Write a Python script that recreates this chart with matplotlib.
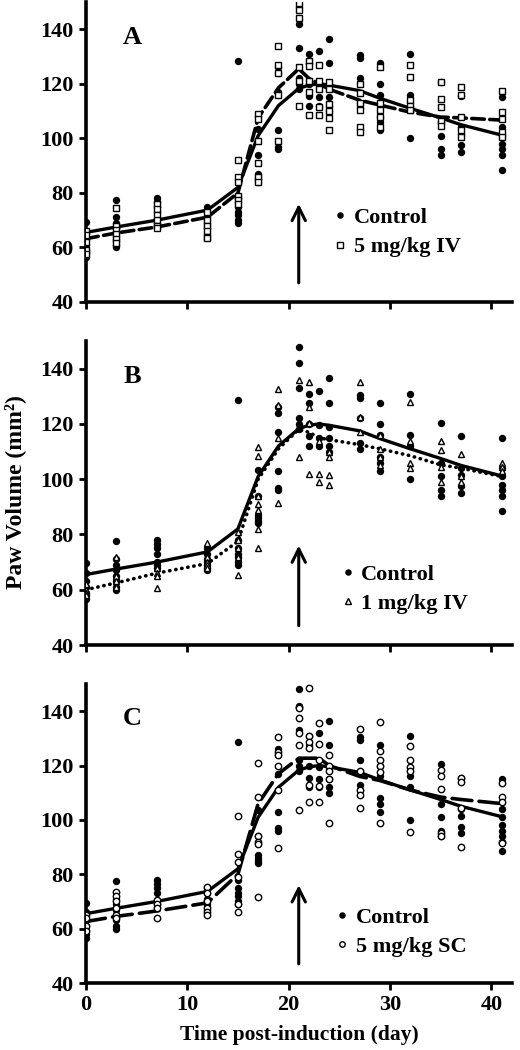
import matplotlib
matplotlib.use("Agg")
import matplotlib.pyplot as plt

plt.rcParams['font.family'] = ['Liberation Serif', 'DejaVu Serif']
plt.rcParams['font.weight'] = 'bold'

# sampling days
days = [0, 3, 7, 12, 15, 17, 19, 21, 22, 23, 24, 27, 29, 32, 35, 37, 41]

# individual paw volumes, control group (same in every panel)
ctrl_pts = [
    [69.5, 66, 63, 61, 59, 58, 56.5],
    [77.5, 71, 69, 67, 65, 63, 61, 60],
    [78, 76.5, 75, 73, 70, 69, 68],
    [75, 73, 71, 70, 69, 68, 67],
    [128.5, 78, 75, 73, 72, 70, 69],
    [103.5, 94, 87, 86, 85, 84],
    [126, 124, 117, 103, 97, 96],
    [148, 142, 133, 122, 120, 118],
    [131, 127.5, 120, 115.5, 112],
    [132, 119.5, 115, 112],
    [136.5, 127.5, 119, 115, 112, 110],
    [130.5, 129.5, 122, 113, 111],
    [127.5, 120, 116, 108, 106, 103],
    [131, 116, 112, 100],
    [120.5, 106, 101, 96, 94],
    [115.5, 104, 101.5, 97.5, 95],
    [115, 104, 101, 98, 96, 94, 88.5],
]

# 5 mg/kg IV (panel A)
iv5_pts = [
    [66, 64.5, 62, 59, 57.5],
    [74.5, 68, 66.5, 65, 63, 61.5],
    [76, 74, 72, 70, 68, 67],
    [73, 70, 68, 66, 64, 63.5],
    [92, 86, 84, 79, 77.5, 76],
    [109, 107, 99, 91, 86, 84],
    [134, 127, 124, 116, 99],
    [149.5, 147, 144, 126, 121, 112],
    [128.5, 126.5, 121, 117, 108.5],
    [127, 121, 118, 111.5, 108.5],
    [120.5, 118, 112.5, 110, 107.5, 103],
    [120, 116.5, 113, 110.5, 104, 102.5],
    [126, 113, 110.5, 108, 104],
    [127, 122.5, 114, 112, 110.5],
    [120.5, 114.5, 111.5, 106.5, 104.5],
    [119, 116, 108, 103, 100.5],
    [117.5, 109.5, 107, 102.5, 100.5],
]

# 1 mg/kg IV (panel B)
iv1_pts = [
    [62, 60, 59, 58],
    [72, 65, 63, 61],
    [68, 66, 65, 60.5],
    [77, 72, 70, 69, 68],
    [81, 78, 75, 72, 65.5],
    [111.5, 108.5, 94, 91, 89, 82, 75],
    [132.5, 127, 115, 91.5],
    [136, 108],
    [135, 126, 120.5, 102],
    [114, 102, 99],
    [110, 108, 101.5, 98],
    [135, 122.5, 117],
    [116, 111, 108, 105],
    [128, 114, 106, 104],
    [114, 110.5, 104.5, 99],
    [109, 101, 99],
    [106, 104.5, 103],
]

# 5 mg/kg SC (panel C)
sc5_pts = [
    [65, 64, 61, 59],
    [73.5, 72, 70, 67.5, 65, 64],
    [70.5, 69, 67.5, 64],
    [75.5, 73, 70, 67.5, 66, 65],
    [101.5, 87.5, 84.5, 79, 69, 66],
    [121, 108.5, 94, 92, 91, 71.5],
    [130.5, 125, 124, 120, 111, 89.5],
    [141.5, 141, 137.5, 132, 127.5, 103.5],
    [148.5, 131, 128.5, 126.5, 113, 106.5],
    [135.5, 128, 122, 112.5, 106.5],
    [124, 120, 118, 115, 99],
    [133.5, 118, 111, 109, 104.5],
    [136, 125.5, 122, 120, 117.5, 99],
    [127, 122, 119.5, 118, 95.5],
    [118.5, 116, 111.5, 95, 94],
    [115.5, 114, 104.5, 90],
    [113.5, 108.5, 106.5, 92, 91.5],
]

# mean curves
ctrl_mean = [65.5, 67.5, 70, 73.7, 82, 101, 112, 118.3, 119.5, 120, 119.5, 117.5, 114.7, 111, 107.5, 105, 101.2]
iv5_mean = [63.2, 65.3, 67.5, 71.1, 80, 107.5, 118.5, 125.5, 122, 120, 118, 114, 112.2, 109.6, 107.8, 107.5, 106.7]
iv1_mean = [60, 62.5, 66, 69.5, 77.5, 100, 111, 118, 117, 115, 114.3, 112.5, 111, 108.5, 105.2, 104, 101]
sc5_mean = [62.6, 64.5, 66.5, 69.5, 80, 106, 117, 122.7, 122.7, 122.7, 120, 116, 114.5, 111, 108.4, 107.5, 106]

panels = [
    ("A", iv5_pts, iv5_mean, "s", (0, (3.5, 1.5)), "5 mg/kg IV"),
    ("B", iv1_pts, iv1_mean, "^", (0, (0.1, 1.6)), "1 mg/kg IV"),
    ("C", sc5_pts, sc5_mean, "o", (0, (5.5, 2)), "5 mg/kg SC"),
]

rects = [
    [0.165, 0.7124, 0.819, 0.2857],
    [0.165, 0.3857, 0.819, 0.2895],
    [0.165, 0.0638, 0.819, 0.2848],
]
leg_pos = [(0.582, 0.232), (0.600, 0.184), (0.587, 0.170)]

fig = plt.figure(figsize=(5.2, 10.5), dpi=100)


def flatten(pts):
    xs, ys = [], []
    for d, vals in zip(days, pts):
        xs += [d] * len(vals)
        ys += vals
    return xs, ys


cx, cy = flatten(ctrl_pts)

for i, (letter, pts, mean, mk, ls, lab) in enumerate(panels):
    ax = fig.add_axes(rects[i])
    tx, ty = flatten(pts)

    ax.plot(days, ctrl_mean, color='black', lw=2.4, solid_capstyle='round', zorder=2)
    ax.plot(days, mean, color='black', lw=2.6, linestyle=ls,
            dash_capstyle='round', zorder=2)

    ax.plot(cx, cy, 'o', color='black', markersize=4.3, linestyle='none',
            zorder=3, label='Control')
    ax.plot(tx, ty, mk, markerfacecolor='white', markeredgecolor='black',
            markeredgewidth=1.0, markersize=4.6 if mk != '^' else 5,
            linestyle='none', zorder=4, label=lab)

    # dosing arrow at day 21
    ax.annotate('', xy=(21, 77), xytext=(21, 46),
                arrowprops=dict(arrowstyle='->', lw=2.2, color='black',
                                mutation_scale=24))

    ax.text(0.11, 0.883, letter, transform=ax.transAxes, fontsize=19,
            fontweight='bold', ha='center', va='center')

    ax.set_xlim(0, 42)
    ax.set_ylim(40, 150)
    ax.set_yticks([40, 60, 80, 100, 120, 140])
    ax.set_xticks([0, 10, 20, 30, 40])
    for s in ['top', 'right']:
        ax.spines[s].set_visible(False)
    for s in ['left', 'bottom']:
        ax.spines[s].set_linewidth(2.6)
    ax.tick_params(axis='both', direction='out', length=5, width=2,
                   labelsize=16)
    for t in ax.get_yticklabels():
        t.set_fontweight('bold')
    if letter != "C":
        ax.set_xticklabels([])
    else:
        for t in ax.get_xticklabels():
            t.set_fontweight('bold')

    ax.legend(loc='center left', bbox_to_anchor=leg_pos[i], frameon=False,
              handlelength=0.6, handletextpad=0.3, borderpad=0,
              borderaxespad=0, labelspacing=0.4, markerscale=0.85,
              prop={'weight': 'bold', 'size': 16})

fig.text(0.029, 0.531, "Paw Volume (mm²)", rotation=90, fontsize=17,
         fontweight='bold', ha='center', va='center')
fig.text(0.575, 0.014, "Time post-induction (day)", fontsize=15.5,
         fontweight='bold', ha='center', va='center')

fig.savefig("out.png", dpi=100)
